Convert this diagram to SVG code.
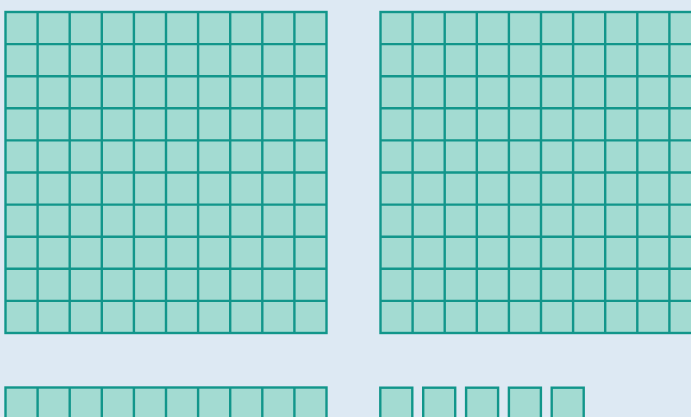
<svg xmlns="http://www.w3.org/2000/svg" width="691" height="417" viewBox="0 0 691 417">
<style>
.blk{fill:#a3dbd2;stroke:#12968b;stroke-width:2.4}
.ln{fill:none;stroke:#12968b;stroke-width:2.4}
</style>
<rect x="0" y="0" width="691" height="417" fill="#dde9f3"/>
<g id="hundred-left">
<rect class="blk" x="5.5" y="12" width="321" height="321"/>
<path class="ln" d="M37.6 12V333M69.7 12V333M101.8 12V333M133.9 12V333M166 12V333M198.1 12V333M230.2 12V333M262.3 12V333M294.4 12V333M5.5 44.1H326.5M5.5 76.2H326.5M5.5 108.3H326.5M5.5 140.4H326.5M5.5 172.5H326.5M5.5 204.6H326.5M5.5 236.7H326.5M5.5 268.8H326.5M5.5 300.9H326.5"/>
</g>
<g id="hundred-right">
<rect class="blk" x="380.5" y="12" width="321" height="321"/>
<path class="ln" d="M412.6 12V333M444.7 12V333M476.8 12V333M508.9 12V333M541 12V333M573.1 12V333M605.2 12V333M637.3 12V333M669.4 12V333M380.5 44.1H701.5M380.5 76.2H701.5M380.5 108.3H701.5M380.5 140.4H701.5M380.5 172.5H701.5M380.5 204.6H701.5M380.5 236.7H701.5M380.5 268.8H701.5M380.5 300.9H701.5"/>
</g>
<g id="ten-strip">
<rect class="blk" x="5.5" y="387.5" width="321" height="32.1"/>
<path class="ln" d="M37.6 387.5V420M69.7 387.5V420M101.8 387.5V420M133.9 387.5V420M166 387.5V420M198.1 387.5V420M230.2 387.5V420M262.3 387.5V420M294.4 387.5V420"/>
</g>
<g id="ones">
<rect class="blk" x="380.3" y="387.7" width="32" height="32"/>
<rect class="blk" x="423.2" y="387.7" width="32" height="32"/>
<rect class="blk" x="466.1" y="387.7" width="32" height="32"/>
<rect class="blk" x="508.9" y="387.7" width="32" height="32"/>
<rect class="blk" x="551.7" y="387.7" width="32" height="32"/>
</g>
</svg>
